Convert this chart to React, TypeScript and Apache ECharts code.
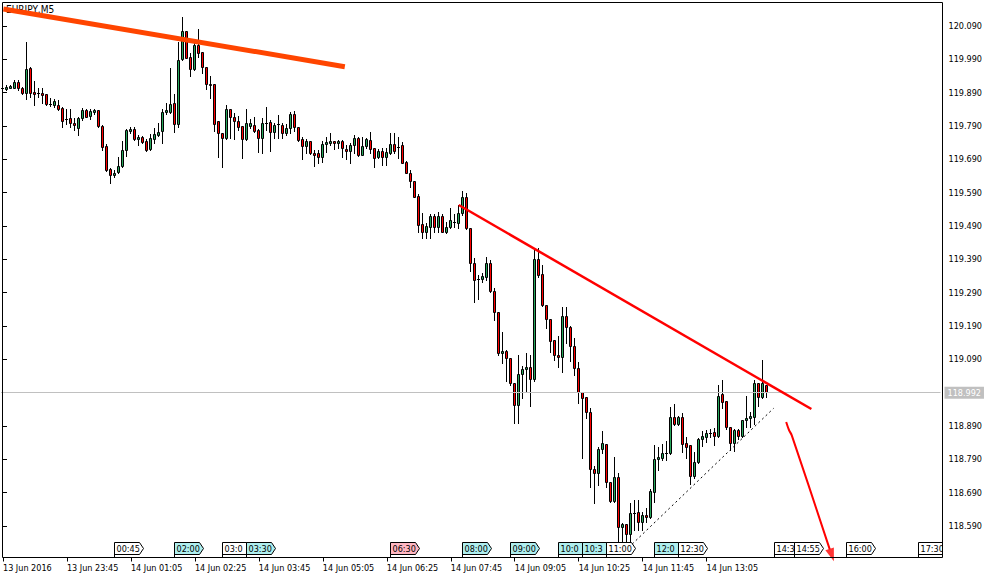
import React, { useEffect, useRef } from "react";
import * as echarts from "echarts";

// ---------- data ----------
const chartTitle = "EURJPY,M5";
const firstSlotLabel = "13 Jun 2016";
const startDay = 13;
const startMinute = 22 * 60 + 25; // 13 Jun 22:25, first bar
const barMinutes = 5;
const slotCount = 235;
const labelEvery = 16;

// [open, close, low, high]
const candles: number[][] = [
  [119.905, 119.905, 119.903, 119.908], [119.900, 119.907, 119.898, 119.912], [119.905, 119.909, 119.903, 119.912], [119.905, 119.922, 119.903, 119.927],
  [119.922, 119.903, 119.897, 119.927], [119.904, 119.890, 119.887, 119.907], [119.888, 119.960, 119.870, 120.042], [119.963, 119.888, 119.878, 119.968],
  [119.892, 119.887, 119.854, 119.925], [119.888, 119.888, 119.878, 119.903], [119.889, 119.884, 119.860, 119.904], [119.885, 119.856, 119.852, 119.886],
  [119.856, 119.855, 119.849, 119.873], [119.854, 119.865, 119.848, 119.871], [119.852, 119.840, 119.837, 119.867], [119.843, 119.805, 119.786, 119.846],
  [119.812, 119.812, 119.796, 119.841], [119.813, 119.798, 119.786, 119.842], [119.799, 119.792, 119.777, 119.815], [119.783, 119.813, 119.762, 119.818],
  [119.813, 119.838, 119.808, 119.843], [119.838, 119.818, 119.816, 119.842], [119.820, 119.835, 119.812, 119.842], [119.831, 119.838, 119.826, 119.842],
  [119.838, 119.791, 119.788, 119.838], [119.790, 119.728, 119.718, 119.793], [119.730, 119.659, 119.655, 119.736], [119.662, 119.642, 119.620, 119.664],
  [119.642, 119.649, 119.638, 119.657], [119.651, 119.670, 119.648, 119.698], [119.670, 119.718, 119.668, 119.746], [119.718, 119.777, 119.700, 119.782],
  [119.776, 119.781, 119.768, 119.788], [119.782, 119.750, 119.748, 119.786], [119.750, 119.758, 119.733, 119.763], [119.757, 119.743, 119.740, 119.760],
  [119.745, 119.717, 119.715, 119.750], [119.720, 119.754, 119.717, 119.766], [119.750, 119.765, 119.740, 119.783], [119.764, 119.771, 119.760, 119.800],
  [119.774, 119.831, 119.738, 119.840], [119.831, 119.838, 119.825, 119.858], [119.833, 119.855, 119.828, 119.963], [119.858, 119.795, 119.773, 119.886],
  [119.795, 119.987, 119.788, 120.041], [119.990, 120.074, 119.988, 120.116], [120.074, 119.995, 119.993, 120.076], [119.997, 119.960, 119.941, 120.008],
  [119.960, 120.033, 119.958, 120.038], [120.033, 120.008, 119.998, 120.081], [120.011, 119.966, 119.948, 120.011], [119.966, 119.915, 119.902, 119.966],
  [119.915, 119.914, 119.875, 119.940], [119.915, 119.795, 119.776, 119.915], [119.804, 119.768, 119.696, 119.804], [119.768, 119.753, 119.668, 119.768],
  [119.753, 119.840, 119.751, 119.853], [119.840, 119.816, 119.755, 119.840], [119.816, 119.804, 119.751, 119.830], [119.804, 119.788, 119.778, 119.820],
  [119.789, 119.750, 119.693, 119.789], [119.750, 119.798, 119.748, 119.840], [119.791, 119.798, 119.783, 119.811], [119.792, 119.776, 119.771, 119.818],
  [119.777, 119.753, 119.713, 119.780], [119.753, 119.798, 119.710, 119.813], [119.798, 119.798, 119.778, 119.846], [119.801, 119.773, 119.716, 119.808],
  [119.773, 119.792, 119.753, 119.798], [119.795, 119.795, 119.753, 119.823], [119.794, 119.770, 119.753, 119.798], [119.770, 119.783, 119.763, 119.795],
  [119.783, 119.826, 119.768, 119.831], [119.826, 119.788, 119.776, 119.834], [119.788, 119.748, 119.745, 119.788], [119.750, 119.730, 119.692, 119.756],
  [119.731, 119.745, 119.708, 119.750], [119.745, 119.708, 119.706, 119.745], [119.708, 119.702, 119.671, 119.718], [119.708, 119.696, 119.680, 119.718],
  [119.696, 119.735, 119.681, 119.745], [119.735, 119.742, 119.713, 119.756], [119.740, 119.745, 119.733, 119.768], [119.745, 119.738, 119.721, 119.745],
  [119.738, 119.745, 119.723, 119.748], [119.745, 119.723, 119.698, 119.748], [119.721, 119.714, 119.692, 119.733], [119.716, 119.732, 119.680, 119.738],
  [119.732, 119.754, 119.708, 119.763], [119.753, 119.704, 119.701, 119.756], [119.704, 119.730, 119.702, 119.758], [119.730, 119.750, 119.723, 119.754],
  [119.748, 119.721, 119.708, 119.772], [119.723, 119.693, 119.668, 119.723], [119.696, 119.715, 119.693, 119.721], [119.715, 119.697, 119.673, 119.723],
  [119.698, 119.713, 119.673, 119.723], [119.710, 119.735, 119.707, 119.768], [119.735, 119.716, 119.708, 119.770], [119.728, 119.728, 119.693, 119.758],
  [119.733, 119.680, 119.678, 119.743], [119.682, 119.650, 119.648, 119.685], [119.650, 119.626, 119.608, 119.658], [119.626, 119.578, 119.576, 119.626],
  [119.580, 119.493, 119.473, 119.586], [119.495, 119.473, 119.455, 119.528], [119.473, 119.490, 119.455, 119.498], [119.488, 119.520, 119.453, 119.525],
  [119.520, 119.488, 119.473, 119.525], [119.488, 119.520, 119.473, 119.533], [119.520, 119.473, 119.471, 119.525], [119.473, 119.488, 119.468, 119.503],
  [119.486, 119.508, 119.483, 119.543], [119.503, 119.503, 119.486, 119.526], [119.500, 119.528, 119.483, 119.553], [119.528, 119.576, 119.523, 119.596],
  [119.576, 119.483, 119.480, 119.588], [119.483, 119.378, 119.356, 119.483], [119.378, 119.328, 119.261, 119.395], [119.330, 119.330, 119.270, 119.343],
  [119.330, 119.340, 119.323, 119.348], [119.338, 119.378, 119.328, 119.398], [119.378, 119.296, 119.293, 119.388], [119.296, 119.233, 119.208, 119.303],
  [119.233, 119.108, 119.103, 119.233], [119.108, 119.115, 119.080, 119.173], [119.115, 119.095, 119.025, 119.118], [119.093, 119.018, 119.013, 119.093],
  [119.018, 118.953, 118.898, 119.018], [118.953, 119.046, 118.898, 119.103], [119.046, 119.060, 118.973, 119.070], [119.060, 119.068, 118.993, 119.110],
  [119.068, 119.030, 118.950, 119.103], [119.030, 119.390, 119.025, 119.418], [119.390, 119.343, 119.338, 119.425], [119.346, 119.253, 119.250, 119.373],
  [119.253, 119.210, 119.183, 119.253], [119.210, 119.146, 119.113, 119.210], [119.148, 119.103, 119.088, 119.148], [119.103, 119.096, 119.068, 119.160],
  [119.096, 119.220, 119.053, 119.246], [119.220, 119.188, 119.140, 119.246], [119.188, 119.130, 119.085, 119.190], [119.130, 119.063, 119.043, 119.153],
  [119.063, 118.991, 118.958, 119.083], [118.993, 118.973, 118.793, 118.993], [118.976, 118.931, 118.915, 118.978], [118.932, 118.760, 118.706, 118.943],
  [118.760, 118.750, 118.660, 118.770], [118.748, 118.821, 118.713, 118.826], [118.820, 118.838, 118.808, 118.875], [118.836, 118.721, 118.708, 118.836],
  [118.721, 118.666, 118.663, 118.721], [118.666, 118.738, 118.663, 118.798], [118.738, 118.588, 118.546, 118.748], [118.588, 118.595, 118.546, 118.598],
  [118.595, 118.565, 118.546, 118.595], [118.565, 118.628, 118.546, 118.658], [118.628, 118.628, 118.578, 118.668], [118.631, 118.603, 118.578, 118.668],
  [118.603, 118.623, 118.578, 118.633], [118.623, 118.616, 118.603, 118.643], [118.616, 118.695, 118.613, 118.701], [118.693, 118.790, 118.663, 118.833],
  [118.790, 118.796, 118.758, 118.828], [118.793, 118.810, 118.788, 118.835], [118.808, 118.808, 118.788, 118.846], [118.808, 118.918, 118.806, 118.946],
  [118.918, 118.896, 118.893, 118.956], [118.896, 118.918, 118.893, 118.920], [118.918, 118.836, 118.813, 118.928], [118.838, 118.828, 118.793, 118.858],
  [118.833, 118.740, 118.716, 118.833], [118.741, 118.781, 118.733, 118.813], [118.781, 118.850, 118.778, 118.853], [118.850, 118.860, 118.831, 118.875],
  [118.858, 118.870, 118.843, 118.878], [118.870, 118.870, 118.858, 118.880], [118.872, 118.861, 118.833, 118.883], [118.861, 118.981, 118.858, 119.013],
  [118.985, 118.963, 118.943, 119.028], [118.965, 118.888, 118.880, 118.965], [118.888, 118.838, 118.818, 118.888], [118.838, 118.878, 118.816, 118.880],
  [118.878, 118.860, 118.850, 118.880], [118.860, 118.908, 118.858, 118.908], [118.908, 118.913, 118.888, 118.981], [118.913, 118.920, 118.888, 118.933],
  [118.916, 119.018, 118.896, 119.028], [119.018, 118.978, 118.950, 119.018], [118.976, 119.020, 118.973, 119.088], [119.013, 118.992, 118.976, 119.013],
];

const priceTicks = [118.59, 118.69, 118.79, 118.89, 119.09, 119.19, 119.29, 119.39, 119.49, 119.59, 119.69, 119.79, 119.89, 119.99, 120.09];
const priceMin = 118.4955;
const priceMax = 120.1605;
const lastPrice = 118.992;

// calendar events on 14 Jun (time, kind)
const eventTimes = ["00:45", "02:00", "03:00", "03:30", "06:30", "08:00", "09:00", "10:00", "10:30", "11:00", "12:00", "12:30", "14:30", "14:55", "16:00", "17:30"];
const eventKinds = ["plain", "mid", "plain", "mid", "high", "mid", "mid", "mid", "mid", "plain", "mid", "plain", "plain", "plain", "plain", "plain"];

// trend objects: [bar index, price]
const orangeTrend = [[0.1, 120.141], [85.5, 119.968]];
const redTrend = [[114, 119.553], [202.2, 118.941]];
const supportTrend = [[157.4, 118.536], [192.75, 118.943]];
const arrowShaft = [[195.9, 118.902], [196.6, 118.878], [197.3, 118.862], [206.8, 118.52]];
const arrowTip = [[207.3, 118.503]];

// ---------- helpers ----------
const pad = (n: number) => (n < 10 ? "0" + n : "" + n);
const slotLabels: string[] = [];
for (let k = 0; k < slotCount; k++) {
  const m = startMinute + k * barMinutes;
  const day = startDay + Math.floor(m / 1440);
  const mm = m % 1440;
  slotLabels.push(`${day} Jun ${pad(Math.floor(mm / 60))}:${pad(mm % 60)}`);
}

const FONT = '"DejaVu Sans Condensed", "Liberation Sans", Arial, sans-serif';
const FS = 9;
const BULL = "#26a65b";
const BEAR = "#ff0000";
const kindFill: Record<string, string> = { plain: "#ffffff", mid: "#aeeeee", high: "#ffb6c1" };

export default function App() {
  const ref = useRef<HTMLDivElement>(null);

  useEffect(() => {
    document.body.style.margin = "0";
    const chart = echarts.init(ref.current!, undefined, { renderer: "svg" });
    const lastBar = candles.length - 1;
    const showSlot = (i: number) => i === 0 || (i >= labelEvery && i <= lastBar && i % labelEvery === 0);

    const candleData = candles.map((d, i) => [i, d[0], d[1], d[2], d[3]]);
    const eventSlots = eventTimes.map((t) => slotLabels.indexOf("14 Jun " + t));
    const eventData = eventSlots.map((s, k) => [s, lastPrice, k]);
    const snap = (v: number) => Math.round(v) + 0.5;

    const option: any = {
      animation: false,
      backgroundColor: "#ffffff",
      grid: { left: 0.5, top: 2.5, width: 940, height: 555, containLabel: false },
      xAxis: [
        {
          type: "category",
          data: slotLabels,
          boundaryGap: true,
          axisLine: { show: false },
          splitLine: { show: false },
          axisTick: {
            show: true,
            alignWithLabel: true,
            interval: (i: number) => showSlot(i),
            length: 4,
            lineStyle: { color: "#000", width: 1 },
          },
          axisLabel: {
            interval: (i: number) => showSlot(i),
            formatter: (v: string, i: number) => (i === 0 ? firstSlotLabel : v),
            align: "left",
            margin: 6,
            fontSize: FS,
            fontFamily: FONT,
            color: "#000",
          },
        },
        { type: "value", min: -0.5, max: slotCount - 0.5, show: false },
      ],
      yAxis: {
        type: "value",
        position: "right",
        offset: 2,
        min: priceMin,
        max: priceMax,
        scale: true,
        axisLine: { show: false },
        splitLine: { show: false },
        axisTick: { show: true, length: 4, lineStyle: { color: "#000" }, customValues: priceTicks },
        axisLabel: {
          customValues: priceTicks,
          formatter: (v: number) => v.toFixed(3),
          margin: 6,
          fontSize: FS,
          fontFamily: FONT,
          color: "#000",
        },
      },
      graphic: [
        {
          type: "text",
          left: 6,
          top: 4,
          z: 0,
          style: { text: chartTitle, font: `10px ${FONT}`, fill: "#000" },
        },
        {
          type: "rect",
          z: 50,
          silent: true,
          shape: { x: 2.5, y: 2.5, width: 940, height: 555 },
          style: { fill: "none", stroke: "#000", lineWidth: 1 },
        },
      ],
      series: [
        {
          type: "custom",
          name: "candles",
          xAxisIndex: 0,
          yAxisIndex: 0,
          z: 2,
          silent: true,
          data: candleData,
          encode: { x: 0, y: [1, 2, 3, 4] },
          renderItem: (params: any, api: any) => {
            const i = api.value(0);
            const o = api.value(1);
            const c = api.value(2);
            const l = api.value(3);
            const h = api.value(4);
            const po = api.coord([i, o]);
            const x = Math.floor(po[0]) + 0.5;
            const yO = snap(po[1]);
            const yC = snap(api.coord([i, c])[1]);
            const yL = snap(api.coord([i, l])[1]);
            const yH = snap(api.coord([i, h])[1]);
            const top = Math.min(yO, yC);
            const bot = Math.max(yO, yC);
            const children: any[] = [
              { type: "line", shape: { x1: x, y1: yH - 0.5, x2: x, y2: yL + 0.5 }, style: { stroke: "#000", lineWidth: 1 } },
            ];
            if (bot - top < 1) {
              children.push({ type: "line", shape: { x1: x - 1.5, y1: top, x2: x + 1.5, y2: top }, style: { stroke: "#000", lineWidth: 1 } });
            } else {
              children.push({
                type: "rect",
                shape: { x: x - 1, y: top, width: 2, height: bot - top },
                style: { fill: c >= o ? BULL : BEAR, stroke: "#000", lineWidth: 1 },
              });
            }
            return { type: "group", children };
          },
          markLine: {
            silent: true,
            symbol: ["none", "none"],
            lineStyle: { color: "#c0c0c0", width: 1, type: "solid" },
            label: {
              show: true,
              position: "end",
              distance: 4,
              formatter: () => lastPrice.toFixed(3),
              backgroundColor: "#c0c0c0",
              color: "#ffffff",
              padding: [2, 3, 1, 3],
              fontSize: FS,
              fontFamily: FONT,
            },
            data: [{ yAxis: lastPrice }],
          },
        },
        {
          type: "custom",
          name: "events",
          xAxisIndex: 0,
          yAxisIndex: 0,
          z: 3,
          silent: true,
          data: eventData,
          renderItem: (params: any, api: any) => {
            const idx = api.value(0);
            const k = api.value(2);
            const cs = params.coordSys;
            const bottom = cs.y + cs.height;
            const x0 = Math.floor(api.coord([idx, lastPrice])[0]) + 0.5;
            const nextIdx = k + 1 < eventSlots.length ? eventSlots[k + 1] : -1;
            const nextX = nextIdx >= 0 ? Math.floor(api.coord([nextIdx, lastPrice])[0]) + 0.5 : 99999;
            const room = Math.min(28, nextX - x0);
            const top = bottom - 15;
            const bb = bottom - 3;
            const mid = (top + bb) / 2;
            return {
              type: "group",
              clipPath: { type: "rect", shape: { x: cs.x, y: cs.y, width: 942.5 - cs.x, height: cs.height + 1 } },
              children: [
                {
                  type: "polygon",
                  shape: { points: [[x0, bottom], [x0, top], [x0 + 25, top], [x0 + 29, mid], [x0 + 25, bb], [x0, bb]] },
                  style: { fill: kindFill[eventKinds[k]], stroke: "#000", lineWidth: 1 },
                },
                {
                  type: "text",
                  style: {
                    text: eventTimes[k],
                    x: x0 + 2,
                    y: mid + 0.5,
                    verticalAlign: "middle",
                    font: `${FS}px ${FONT}`,
                    fill: "#000",
                    width: room,
                    overflow: "truncate",
                    ellipsis: "",
                  },
                },
              ],
            };
          },
        },
        {
          type: "line",
          xAxisIndex: 1,
          yAxisIndex: 0,
          data: orangeTrend,
          symbol: "none",
          silent: true,
          z: 5,
          lineStyle: { color: "#ff4500", width: 5 },
        },
        {
          type: "line",
          xAxisIndex: 1,
          yAxisIndex: 0,
          data: redTrend,
          symbol: "none",
          silent: true,
          z: 5,
          lineStyle: { color: "#ff0000", width: 2.5 },
        },
        {
          type: "line",
          xAxisIndex: 1,
          yAxisIndex: 0,
          data: supportTrend,
          symbol: "none",
          silent: true,
          z: 5,
          lineStyle: { color: "#000000", width: 1, type: [2, 3] },
        },
        {
          type: "line",
          xAxisIndex: 1,
          yAxisIndex: 0,
          data: arrowShaft,
          symbol: "none",
          smooth: 0.3,
          silent: true,
          clip: false,
          z: 5,
          lineStyle: { color: "#ff0000", width: 2 },
        },
        {
          type: "scatter",
          xAxisIndex: 1,
          yAxisIndex: 0,
          data: arrowTip,
          symbol: "triangle",
          symbolSize: [9, 13],
          symbolRotate: 199,
          clip: false,
          silent: true,
          z: 5,
          itemStyle: { color: "#ff0000" },
        },
      ],
    };
    chart.setOption(option);
    return () => chart.dispose();
  }, []);

  return <div ref={ref} style={{ width: 995, height: 579 }} />;
}
